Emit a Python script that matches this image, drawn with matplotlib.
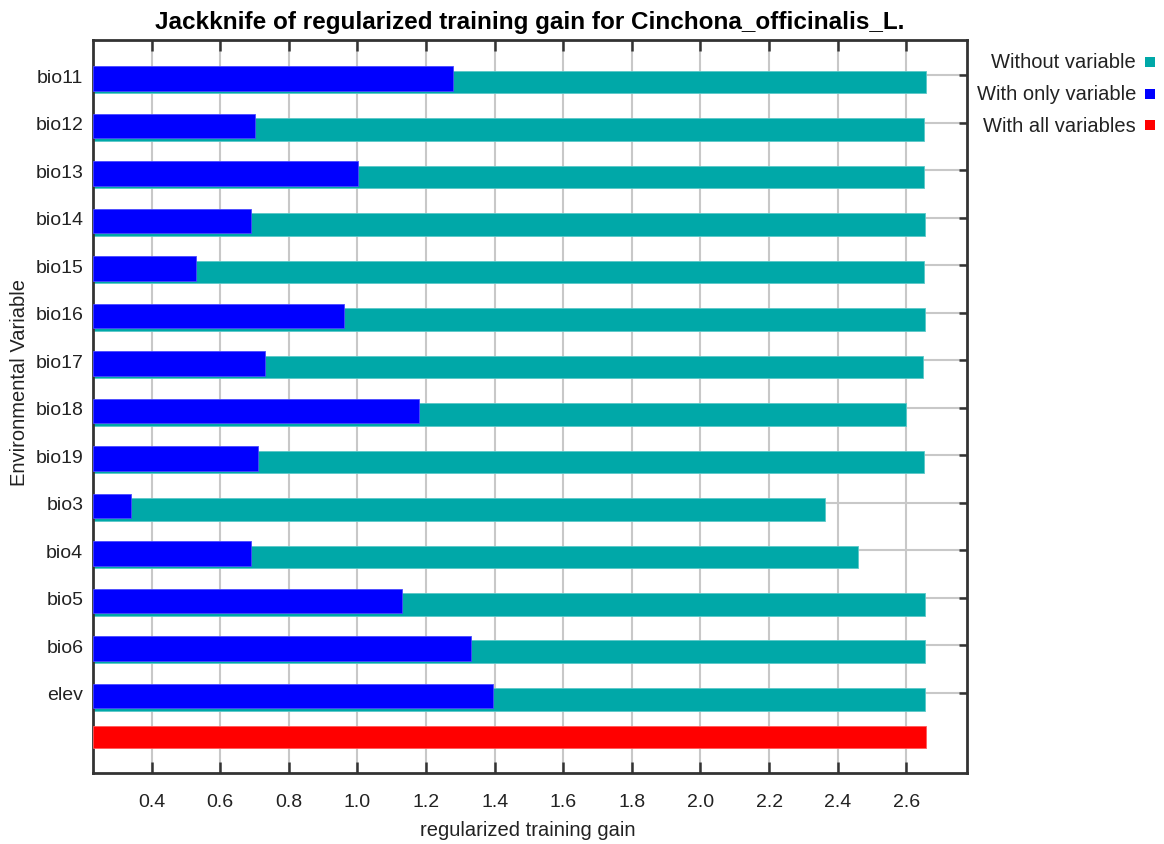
import matplotlib
matplotlib.use("Agg")
import matplotlib.pyplot as plt
from matplotlib.patches import Rectangle
import numpy as np

plt.rcParams["font.family"] = ["Liberation Sans", "DejaVu Sans"]

# Jackknife results for Cinchona_officinalis_L.
variables = ["bio11", "bio12", "bio13", "bio14", "bio15", "bio16", "bio17",
             "bio18", "bio19", "bio3", "bio4", "bio5", "bio6", "elev"]
gain_without = [2.657, 2.651, 2.651, 2.656, 2.651, 2.656, 2.648,
                2.598, 2.651, 2.363, 2.460, 2.656, 2.656, 2.656]
gain_only = [1.278, 0.700, 1.003, 0.690, 0.529, 0.960, 0.730,
             1.180, 0.711, 0.339, 0.690, 1.131, 1.332, 1.396]
gain_all = 2.657
x_ticks = [0.4, 0.6, 0.8, 1.0, 1.2, 1.4, 1.6, 1.8, 2.0, 2.2, 2.4, 2.6]

CYAN = "#00A8A8"
BLUE = "#0000FF"
RED = "#FF0000"
SPINE = "#333333"

W, H = 1164, 845
fig = plt.figure(figsize=(W / 100, H / 100), dpi=100)
ax = fig.add_axes([93 / W, 1 - 774.3 / H, (967 - 93) / W, (774.3 - 41) / H])

x0 = 0.229
pos = np.arange(len(variables))

# bars: "without" slightly lower, "with only" slightly higher, drawn from the left axis edge
ax.barh(pos + 0.14, np.array(gain_without) - x0, left=x0, height=0.477,
        color=CYAN, edgecolor="#5cc8c8", linewidth=0.6, zorder=2)
ax.barh(pos + 0.0675, np.array(gain_only) - x0, left=x0, height=0.515,
        color=BLUE, edgecolor="#4a4aff", linewidth=0.6, zorder=3)
ax.barh([len(variables) - 0.068], [gain_all - x0], left=x0, height=0.475,
        color=RED, edgecolor="#ff5a5a", linewidth=0.6, zorder=3)

ax.set_xlim(x0, 2.777)
ax.set_ylim(14.698, -0.743)

ax.set_xticks(x_ticks)
ax.set_xticklabels([f"{t:.1f}" for t in x_ticks])
ax.set_yticks(pos)
ax.set_yticklabels(variables)

ax.grid(True, color="#c8c8c8", linewidth=1.5, zorder=0)
ax.set_axisbelow(True)

ax.tick_params(axis="x", which="both", direction="in", top=True, bottom=True,
               length=8, width=1.8, color=SPINE, labelsize=14, pad=14,
               labelcolor="#222222")
ax.tick_params(axis="y", which="both", direction="in", left=False, right=True,
               length=6, width=1.8, color=SPINE, labelsize=14, pad=7,
               labelcolor="#222222")
for s in ax.spines.values():
    s.set_color(SPINE)
    s.set_linewidth(2)

ax.set_title("Jackknife of regularized training gain for Cinchona_officinalis_L.",
             fontsize=17.5, fontweight="bold", pad=9)

fig.text(528 / W, 1 - 831 / H, "regularized training gain", fontsize=14.5,
         ha="center", va="center", color="#222222")
fig.text(20 / W, 1 - 383 / H, "Environmental Variable", fontsize=14.5,
         rotation=90, ha="center", va="center", color="#222222")

# legend: right-aligned labels with small coloured squares
legend_items = [("Without variable", CYAN), ("With only variable", BLUE),
                ("With all variables", RED)]
for i, (label, col) in enumerate(legend_items):
    yc = 63 + i * 31.5
    fig.text(1136 / W, 1 - yc / H, label, fontsize=14.5, ha="right", va="center",
             color="#222222")
    fig.patches.append(Rectangle((1145 / W, 1 - (yc + 5) / H), 10 / W, 10 / H,
                                 transform=fig.transFigure, facecolor=col,
                                 edgecolor="none"))

fig.savefig("out.png", dpi=100)
